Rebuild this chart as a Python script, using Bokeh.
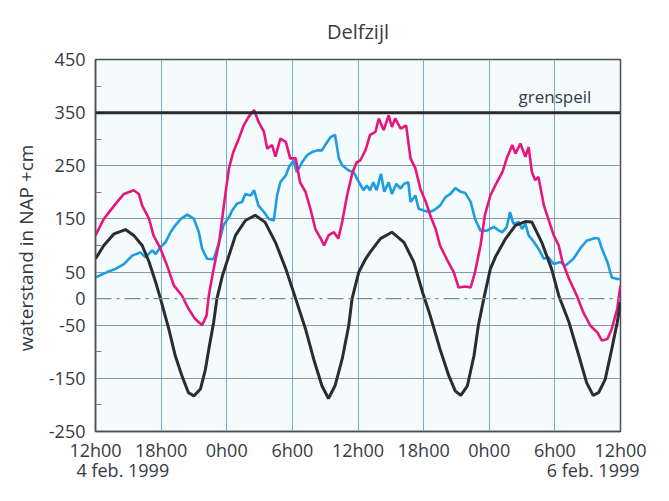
from bokeh.plotting import figure
from bokeh.models import FixedTicker, Span, Label, Range1d, LinearAxis
from bokeh.embed import file_html
from bokeh.resources import INLINE

# hours since 12h00 on 4 feb 1999
black_h = [0.0, 0.76, 1.7, 2.74, 3.5, 4.27, 4.9, 5.5, 5.94, 6.7, 7.3, 7.9, 8.5, 9.0, 9.6, 10.05, 10.36, 10.8, 11.1, 11.6,
           12.2, 12.8, 13.7, 14.6, 15.5, 16.45, 17.4, 18.3, 19.2, 19.95, 20.7, 21.3, 21.9, 22.55, 23.15, 23.46, 24.07,
           24.7, 25.1, 26.05, 27.1, 28.2, 29.1, 29.9, 30.6, 31.5, 32.3, 32.9, 33.4, 34.0, 34.6, 35.0, 35.5, 36.1, 36.6,
           37.5, 38.4, 39.3, 39.9, 40.8, 41.7, 42.35, 43.3, 44.2, 44.9, 45.5, 46.0, 46.6, 47.2, 47.7, 48.0]
black_v = [75, 100, 122, 130, 119, 100, 69, 31, 0, -57, -108, -145, -177, -183, -170, -133, -95, -45, 0, 43,
           81, 119, 147, 157, 144, 106, 56, 0, -57, -114, -164, -188, -164, -114, -51, 0, 50,
           75, 87, 113, 125, 106, 69, 12, -32, -95, -145, -174, -182, -164, -108, -51, 0, 56, 80,
           113, 138, 145, 144, 106, 56, 6, -45, -108, -158, -182, -177, -152, -95, -45, -7]

magenta_h = [0.0, 0.76, 1.37, 1.98, 2.6, 3.5, 3.96, 4.27, 4.9, 5.3, 5.94, 6.55, 7.16, 7.9, 8.5, 9.1, 9.75, 10.15, 10.36,
             10.8, 11.3, 11.7, 11.9, 12.2, 12.6, 13.1, 13.55, 14.0, 14.5, 14.9, 15.4, 15.7, 16.15, 16.45, 16.9, 17.4,
             17.8, 18.3, 18.7, 19.2, 19.65, 20.1, 20.6, 20.9, 21.3, 21.8, 22.2, 22.55, 23.0, 23.5, 23.9, 24.2, 24.7,
             25.1, 25.6, 25.9, 26.35, 26.8, 27.1, 27.4, 27.9, 28.4, 28.8, 29.25, 29.7, 30.2, 30.6, 31.1, 31.5, 32.1,
             32.75, 33.2, 33.8, 34.3, 34.7, 35.2, 35.6, 36.1, 36.6, 37.2, 37.6, 38.1, 38.4, 38.85, 39.3, 39.6, 39.9,
             40.2, 40.5, 41.0, 41.4, 41.9, 42.35, 42.7, 43.3, 44.0, 44.6, 45.25, 45.9, 46.3, 46.8, 47.2, 47.7, 48.0]
magenta_v = [119, 150, 166, 182, 197, 204, 197, 175, 150, 119, 94, 62, 25, 6, -19, -38, -50, -32, 6,
             56, 106, 169, 201, 245, 276, 301, 326, 342, 355, 333, 314, 282, 289, 267, 301, 295,
             264, 264, 219, 201, 169, 131, 113, 100, 119, 125, 113, 144, 194, 238, 257, 260, 280,
             308, 314, 339, 317, 345, 323, 339, 320, 326, 264, 245, 207, 182, 157, 131, 100, 75,
             50, 21, 23, 21, 50, 100, 157, 194, 215, 238, 264, 289, 273, 292, 267, 285, 238,
             223, 229, 175, 150, 119, 100, 69, 37, 6, -26, -51, -64, -79, -76, -57, -19, 25]

blue_h = [0.0, 1.07, 1.83, 2.6, 3.35, 4.1, 4.57, 5.18, 5.5, 5.94, 6.4, 6.86, 7.3, 7.8, 8.4, 9.0, 9.45, 9.75, 10.2, 10.8,
          11.3, 11.7, 12.2, 12.5, 12.95, 13.4, 13.7, 14.2, 14.5, 14.9, 15.4, 15.85, 16.3, 16.6, 16.9, 17.4, 17.7, 18.1,
          18.4, 18.9, 19.35, 19.8, 20.3, 20.7, 21.0, 21.5, 21.9, 22.25, 22.55, 23.15, 23.6, 24.1, 24.5, 24.8, 25.1,
          25.4, 25.7, 26.1, 26.4, 26.8, 27.1, 27.5, 27.9, 28.2, 28.6, 28.8, 29.25, 29.55, 30.0, 30.5, 30.9, 31.5, 32.0,
          32.45, 32.9, 33.4, 33.8, 34.3, 34.7, 35.2, 35.8, 36.4, 36.9, 37.2, 37.6, 37.9, 38.2, 38.7, 39.0, 39.3, 39.6,
          40.1, 40.5, 41.0, 41.4, 41.9, 42.5, 42.95, 43.7, 44.3, 44.9, 45.7, 46.0, 46.3, 46.8, 47.2, 47.7, 48.0]
blue_v = [40, 50, 56, 65, 81, 87, 78, 91, 84, 97, 106, 125, 138, 150, 158, 150, 125, 94, 75, 74,
          106, 138, 153, 166, 179, 182, 197, 194, 204, 175, 163, 150, 147, 194, 219, 232, 248, 260,
          238, 257, 270, 276, 279, 279, 289, 304, 308, 264, 251, 241, 238, 219, 204, 213, 204,
          219, 204, 235, 201, 219, 197, 216, 207, 216, 219, 182, 194, 169, 166, 163, 166, 175, 191,
          197, 208, 201, 199, 182, 150, 128, 128, 135, 128, 125, 135, 163, 141, 144, 131, 141, 119,
          106, 94, 75, 78, 65, 69, 62, 75, 94, 109, 114, 113, 94, 69, 40, 37, 37]

grenspeil = 350
y_ticks = [-250, -150, -50, 0, 50, 150, 250, 350, 450]
y_minor = [-200, -100, 100, 200, 300, 400]
x_ticks = [0, 6, 12, 18, 24, 30, 36, 42, 48]
x_labels = ["12h00", "18h00", "0h00", "6h00", "12h00", "18h00", "0h00", "6h00", "12h00"]
date_labels = ["4 feb. 1999", "6 feb. 1999"]
y_title = "waterstand in NAP  +cm"

FONT = "Open Sans"
TXT = "#343a46"
AXC = "#4a5058"

p = figure(width=653, height=485, output_backend="svg", toolbar_location=None,
           x_range=Range1d(0, 48), y_range=Range1d(-250, 450),
           min_border_left=95, min_border_right=33, min_border_top=59, min_border_bottom=54)

p.title.text = "Delfzijl"
p.title.align = "center"
p.title.text_font = FONT
p.title.text_font_size = "20px"
p.title.text_font_style = "normal"
p.title.text_color = TXT
p.title.text_line_height = 0.8
p.title.standoff = 30

p.background_fill_color = "#f3fbfd"
p.border_fill_color = "white"
p.outline_line_color = AXC
p.outline_line_width = 1.5

# axes
p.yaxis.ticker = FixedTicker(ticks=y_ticks, minor_ticks=y_minor)
p.yaxis.major_label_overrides = {t: str(t) for t in y_ticks}
p.xaxis.ticker = FixedTicker(ticks=x_ticks)
p.xaxis.major_label_overrides = {t: l for t, l in zip(x_ticks, x_labels)}
for ax in (p.xaxis, p.yaxis):
    ax.major_label_text_font = FONT
    ax.major_label_text_font_size = "18px"
    ax.major_label_text_color = TXT
    ax.axis_line_color = AXC
    ax.axis_line_width = 1.5
    ax.major_tick_in = 0
    ax.major_tick_out = 0
p.xaxis.minor_tick_line_color = None
p.yaxis.minor_tick_in = 6
p.yaxis.minor_tick_out = 0
p.yaxis.minor_tick_line_color = "#6a8090"
p.yaxis.major_label_standoff = 10
p.xaxis.major_label_standoff = 6
p.yaxis.axis_label = y_title
p.yaxis.axis_label_text_font = FONT
p.yaxis.axis_label_text_font_size = "19px"
p.yaxis.axis_label_text_font_style = "normal"
p.yaxis.axis_label_text_color = TXT
p.yaxis.axis_label_standoff = 7

# second axis below carrying the dates
date_pos = [2.5, 45.5]
date_axis = LinearAxis(ticker=FixedTicker(ticks=date_pos),
                       major_label_overrides={d: l for d, l in zip(date_pos, date_labels)},
                       axis_line_color=None, major_tick_line_color=None, minor_tick_line_color=None,
                       major_tick_in=0, major_tick_out=0,
                       major_label_standoff=-7, major_label_text_font=FONT,
                       major_label_text_font_size="18px", major_label_text_color=TXT)
p.add_layout(date_axis, "below")

# grids
p.xgrid.ticker = FixedTicker(ticks=x_ticks)
p.xgrid.grid_line_color = "#78aecb"
p.xgrid.grid_line_width = 1
p.ygrid.ticker = FixedTicker(ticks=[t for t in y_ticks if t != 0])
p.ygrid.grid_line_color = "#8c9aa8"
p.ygrid.grid_line_width = 1
p.add_layout(Span(location=0, dimension="width", line_color="#7d8c9a",
                  line_width=1.2, line_dash="16 5 3 5"))

# series
p.line(blue_h, blue_v, line_color="#1f9be3", line_width=2.6)
p.line(magenta_h, magenta_v, line_color="#e8157f", line_width=2.6)
p.line(black_h, black_v, line_color="#2a2c30", line_width=3)

# grenspeil
p.add_layout(Span(location=grenspeil, dimension="width", line_color="#2a2a2a", line_width=3))
p.add_layout(Label(x=42, y=381, text="grenspeil", text_font=FONT, text_font_size="17px",
                   text_color=TXT, text_align="center", text_baseline="middle"))

open("out.html", "w").write(file_html(p, INLINE))
